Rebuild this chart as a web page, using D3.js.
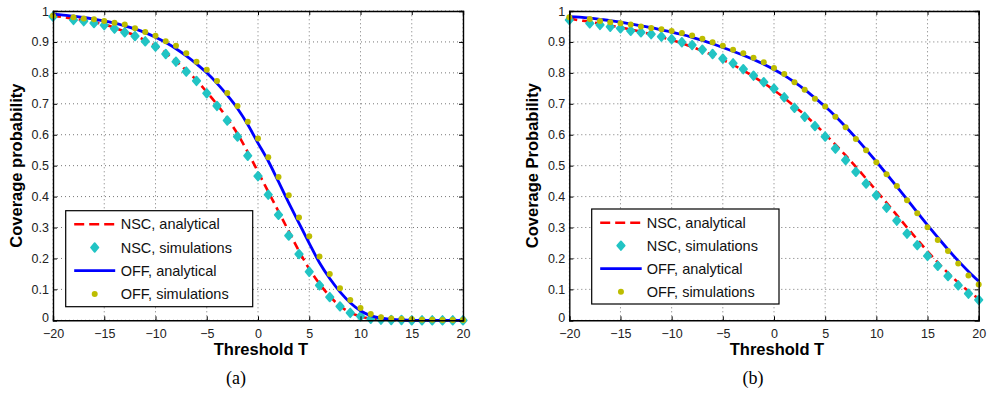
<!DOCTYPE html>
<html>
<head>
<meta charset="utf-8">
<script src="https://cdn.jsdelivr.net/npm/d3@7/dist/d3.min.js"></script>
<style>
  html, body { margin: 0; padding: 0; background: #fff; }
  svg { display: block; }
</style>
</head>
<body>
<svg id="chart" width="987" height="407"></svg>
<script>
// ---------- DATA ----------
const xTicks = [-20, -15, -10, -5, 0, 5, 10, 15, 20];
const yTicks = [0, 0.1, 0.2, 0.3, 0.4, 0.5, 0.6, 0.7, 0.8, 0.9, 1];
const yTickLabels = ["0", "0.1", "0.2", "0.3", "0.4", "0.5", "0.6", "0.7", "0.8", "0.9", "1"];

// thresholds of the simulation points (dB)
const tSim = [-20, -18, -17, -16, -15, -14, -13, -12, -11, -10, -9, -8, -7, -6, -5, -4, -3, -2, -1,
              0, 1, 2, 3, 4, 5, 6, 7, 8, 9, 10, 11, 12, 13, 14, 15, 16, 17, 18, 19, 20];
// thresholds of the analytical curves (dB)
const tAna = [-20, -19, -18, -17, -16, -15, -14, -13, -12, -11, -10, -9, -8, -7, -6, -5, -4, -3, -2, -1,
              0, 1, 2, 3, 4, 5, 6, 7, 8, 9, 10, 11, 12, 13, 14, 15, 16, 17, 18, 19, 20];

// (a)
const nscAnaA = [0.985, 0.980, 0.975, 0.970, 0.964, 0.956, 0.946, 0.934, 0.921, 0.905, 0.887, 0.864, 0.838, 0.808,
                 0.776, 0.738, 0.698, 0.653, 0.603, 0.544, 0.480, 0.416, 0.352, 0.288, 0.224, 0.166, 0.118, 0.078,
                 0.046, 0.025, 0.012, 0.005, 0.002, 0.001, 0, 0, 0, 0, 0, 0, 0];
const nscSimA = [0.982, 0.971, 0.967, 0.961, 0.954, 0.943, 0.931, 0.919, 0.902, 0.885, 0.861, 0.836, 0.804, 0.774,
                 0.734, 0.693, 0.646, 0.594, 0.532, 0.466, 0.406, 0.341, 0.274, 0.214, 0.157, 0.113, 0.075, 0.045,
                 0.024, 0.013, 0.005, 0.002, 0.001, 0.001, 0, 0, 0, 0, 0, 0];
const offAnaA = [0.990, 0.987, 0.983, 0.979, 0.974, 0.968, 0.961, 0.952, 0.942, 0.930, 0.915, 0.898, 0.878, 0.855,
                 0.829, 0.800, 0.766, 0.728, 0.685, 0.633, 0.573, 0.515, 0.448, 0.380, 0.314, 0.249, 0.186, 0.135,
                 0.092, 0.057, 0.031, 0.015, 0.007, 0.003, 0.001, 0, 0, 0, 0, 0, 0];
const offSimA = [0.985, 0.980, 0.976, 0.973, 0.968, 0.962, 0.956, 0.944, 0.932, 0.920, 0.902, 0.888, 0.863, 0.836,
                 0.810, 0.774, 0.735, 0.693, 0.642, 0.588, 0.527, 0.463, 0.404, 0.332, 0.272, 0.206, 0.150, 0.104,
                 0.066, 0.040, 0.020, 0.010, 0.006, 0.004, 0.003, 0.002, 0.002, 0.001, 0.001, 0.001];

// (b)
const nscAnaB = [0.975, 0.970, 0.965, 0.959, 0.953, 0.947, 0.940, 0.933, 0.925, 0.916, 0.906, 0.896, 0.884, 0.871,
                 0.857, 0.842, 0.826, 0.808, 0.788, 0.767, 0.744, 0.719, 0.692, 0.664, 0.634, 0.602, 0.568, 0.533,
                 0.496, 0.458, 0.419, 0.380, 0.340, 0.300, 0.261, 0.223, 0.187, 0.153, 0.122, 0.094, 0.070];
const nscSimB = [0.971, 0.960, 0.955, 0.949, 0.944, 0.936, 0.931, 0.925, 0.917, 0.909, 0.899, 0.890, 0.875, 0.861,
                 0.846, 0.831, 0.812, 0.791, 0.770, 0.749, 0.721, 0.687, 0.658, 0.628, 0.594, 0.555, 0.518, 0.480,
                 0.442, 0.404, 0.364, 0.322, 0.280, 0.243, 0.208, 0.176, 0.143, 0.113, 0.086, 0.066];
const offAnaB = [0.982, 0.980, 0.977, 0.973, 0.969, 0.964, 0.958, 0.952, 0.946, 0.939, 0.932, 0.924, 0.915, 0.905,
                 0.894, 0.882, 0.870, 0.857, 0.843, 0.828, 0.811, 0.792, 0.770, 0.746, 0.719, 0.691, 0.660, 0.626,
                 0.590, 0.552, 0.513, 0.473, 0.432, 0.391, 0.349, 0.308, 0.268, 0.229, 0.192, 0.158, 0.126];
const offSimB = [0.980, 0.974, 0.968, 0.964, 0.960, 0.956, 0.950, 0.945, 0.941, 0.935, 0.929, 0.921, 0.910, 0.899,
                 0.888, 0.875, 0.863, 0.849, 0.834, 0.816, 0.796, 0.770, 0.745, 0.716, 0.691, 0.658, 0.624, 0.586,
                 0.550, 0.511, 0.472, 0.434, 0.388, 0.346, 0.301, 0.260, 0.224, 0.184, 0.145, 0.116];

const legendLabels = ["NSC, analytical", "NSC, simulations", "OFF, analytical", "OFF, simulations"];
const xTitle = "Threshold T";
const yTitles = ["Coverage probability", "Coverage Probability"];
const captions = ["(a)", "(b)"];

// ---------- STYLE / LAYOUT ----------
const C = { red: "#ff0000", cyan: "#22c4c4", blue: "#0000ff", olive: "#bdbd00" };
const SANS = "'Liberation Sans', Arial, Helvetica, sans-serif";

const panels = [
  { x0: 53, x1: 463, yTitle: yTitles[0], caption: captions[0], capX: 236,
    nscAna: nscAnaA, nscSim: nscSimA, offAna: offAnaA, offSim: offSimA,
    leg: { x: 65.7, y: 210.7, w: 187, h: 96, row0: 13.6, rowStep: 23.2, lx0: 8.5, lx1: 49.5, tx: 55 } },
  { x0: 569.3, x1: 978.7, yTitle: yTitles[1], caption: captions[1], capX: 753,
    nscAna: nscAnaB, nscSim: nscSimB, offAna: offAnaB, offSim: offSimB,
    leg: { x: 591.7, y: 209, w: 187.3, h: 95, row0: 13.7, rowStep: 23, lx0: 8.5, lx1: 50, tx: 55 } }
];
const yTop = 11, yBot = 320.3;

const svg = d3.select("#chart");

function diamondPath(cx, cy, rx, ry) {
  return `M${cx},${cy - ry}L${cx + rx},${cy}L${cx},${cy + ry}L${cx - rx},${cy}Z`;
}

panels.forEach(p => {
  const x = d3.scaleLinear().domain([-20, 20]).range([p.x0, p.x1]);
  const y = d3.scaleLinear().domain([0, 1]).range([yBot, yTop]);
  const g = svg.append("g");

  // grid
  const grid = g.append("g").attr("stroke", "#555").attr("stroke-width", 0.8)
    .attr("stroke-dasharray", "1,3");
  xTicks.forEach(t => grid.append("line")
    .attr("x1", x(t)).attr("x2", x(t)).attr("y1", yBot).attr("y2", yTop));
  yTicks.forEach(t => grid.append("line")
    .attr("x1", p.x0).attr("x2", p.x1).attr("y1", y(t)).attr("y2", y(t)));

  const line = d3.line().x((d, i) => x(tAna[i])).y(d => y(d)).curve(d3.curveMonotoneX);

  // NSC analytical
  g.append("path").datum(p.nscAna).attr("d", line).attr("fill", "none")
    .attr("stroke", C.red).attr("stroke-width", 2.6).attr("stroke-dasharray", "8,5");
  // NSC simulations
  g.append("g").selectAll("path").data(p.nscSim).join("path")
    .attr("d", (d, i) => diamondPath(x(tSim[i]), y(d), 3.7, 4.3))
    .attr("fill", C.cyan).attr("stroke", C.cyan).attr("stroke-width", 1.8)
    .attr("stroke-linejoin", "round");
  // OFF analytical
  g.append("path").datum(p.offAna).attr("d", line).attr("fill", "none")
    .attr("stroke", C.blue).attr("stroke-width", 2.8);
  // OFF simulations
  g.append("g").selectAll("circle").data(p.offSim).join("circle")
    .attr("cx", (d, i) => x(tSim[i])).attr("cy", d => y(d)).attr("r", 3)
    .attr("fill", C.olive);

  // axes (ticks inside, box)
  const ax = g.append("g").attr("font-family", SANS);
  const bottom = ax.append("g").attr("transform", `translate(0,${yBot})`)
    .call(d3.axisBottom(x).tickValues(xTicks).tickSize(-4).tickPadding(9)
      .tickFormat(d => d < 0 ? "\u2212" + Math.abs(d) : String(d)));
  const top = ax.append("g").attr("transform", `translate(0,${yTop})`)
    .call(d3.axisTop(x).tickValues(xTicks).tickSize(-4).tickFormat(""));
  const left = ax.append("g").attr("transform", `translate(${p.x0},0)`)
    .call(d3.axisLeft(y).tickValues(yTicks).tickSize(-4).tickPadding(4)
      .tickFormat((d, i) => yTickLabels[i]));
  const right = ax.append("g").attr("transform", `translate(${p.x1},0)`)
    .call(d3.axisRight(y).tickValues(yTicks).tickSize(-4).tickFormat(""));
  [bottom, top, left, right].forEach(a => {
    a.select(".domain").attr("stroke", "#000").attr("stroke-width", 1.4);
    a.selectAll(".tick line").attr("stroke", "#000").attr("stroke-width", 1);
    a.selectAll(".tick text").attr("font-size", 12.5).attr("fill", "#222").attr("font-family", SANS);
  });
  // lift the "0" y label a touch so it clears the first x label
  left.selectAll(".tick text").filter((d, i) => i === 0).attr("dy", "0.1em");

  // axis titles
  g.append("text").attr("x", (p.x0 + p.x1) / 2 + 3).attr("y", 355)
    .attr("text-anchor", "middle").attr("font-family", SANS).attr("font-weight", "bold")
    .attr("font-size", 16.5).attr("fill", "#000").text(xTitle);
  g.append("text").attr("transform", `translate(${p.x0 - 31},${(yTop + yBot) / 2}) rotate(-90)`)
    .attr("text-anchor", "middle").attr("font-family", SANS).attr("font-weight", "bold")
    .attr("font-size", 16.5).attr("fill", "#000").text(p.yTitle);

  // caption
  g.append("text").attr("x", p.capX).attr("y", 384).attr("text-anchor", "middle")
    .attr("font-family", "'Liberation Serif', 'DejaVu Serif', serif").attr("font-size", 18)
    .attr("fill", "#000").text(p.caption);

  // legend
  const L = p.leg;
  const lg = g.append("g").attr("transform", `translate(${L.x},${L.y})`);
  lg.append("rect").attr("width", L.w).attr("height", L.h).attr("fill", "#fff")
    .attr("stroke", "#000").attr("stroke-width", 1.2);
  const rows = legendLabels.map((lab, i) => ({ lab, i, cy: L.row0 + i * L.rowStep }));
  rows.forEach(r => {
    const mx = (L.lx0 + L.lx1) / 2;
    if (r.i === 0) {
      lg.append("line").attr("x1", L.lx0).attr("x2", L.lx1).attr("y1", r.cy).attr("y2", r.cy)
        .attr("stroke", C.red).attr("stroke-width", 2.6).attr("stroke-dasharray", "10,5");
    } else if (r.i === 1) {
      lg.append("path").attr("d", diamondPath(mx, r.cy, 3.7, 4.3))
        .attr("fill", C.cyan).attr("stroke", C.cyan).attr("stroke-width", 1.8)
        .attr("stroke-linejoin", "round");
    } else if (r.i === 2) {
      lg.append("line").attr("x1", L.lx0).attr("x2", L.lx1).attr("y1", r.cy).attr("y2", r.cy)
        .attr("stroke", C.blue).attr("stroke-width", 2.8);
    } else {
      lg.append("circle").attr("cx", mx).attr("cy", r.cy).attr("r", 3).attr("fill", C.olive);
    }
    lg.append("text").attr("x", L.tx).attr("y", r.cy).attr("dy", "0.35em")
      .attr("font-family", SANS).attr("font-size", 14.5).attr("fill", "#111").text(r.lab);
  });
});
</script>
</body>
</html>
